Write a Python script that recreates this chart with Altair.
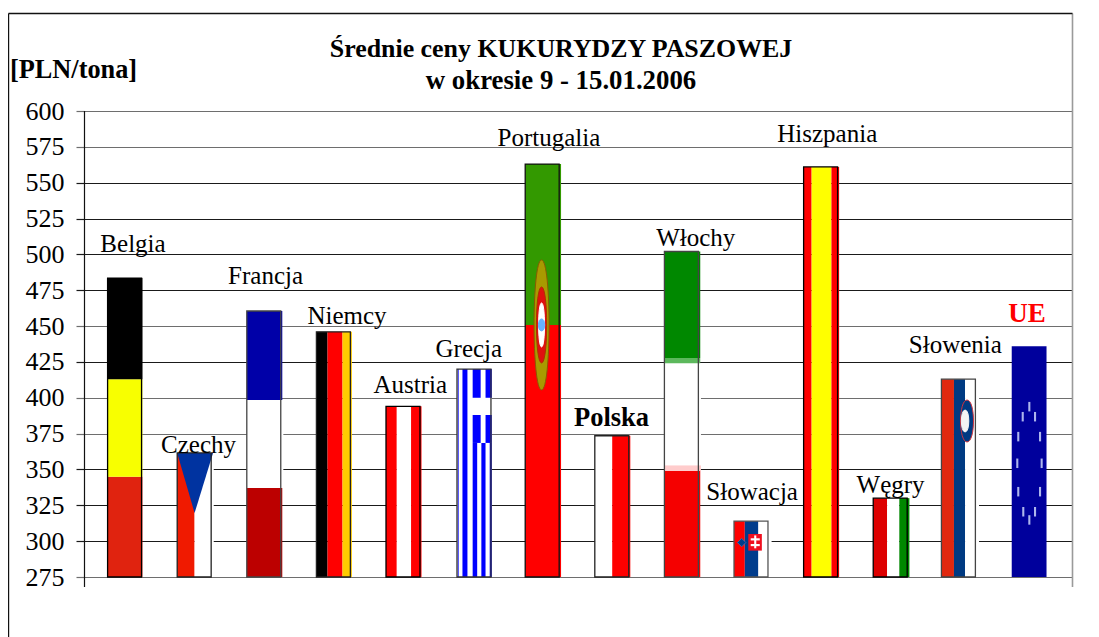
import altair as alt
import pandas as pd

# ---- values ----
countries = ["Belgia", "Czechy", "Francja", "Niemcy", "Austria", "Grecja", "Portugalia",
             "Polska", "Włochy", "Słowacja", "Hiszpania", "Węgry", "Słowenia", "UE"]
prices = [483.5, 361.5, 460.5, 446, 394, 420, 563, 373.5, 502, 314, 561, 330, 413, 436]
bar_pos = [1, 2, 3, 4, 5, 6.02, 7, 8, 9, 10, 11, 12, 12.98, 13.99]
label_x = [1.115, 2.057, 3.02, 4.19, 5.10, 5.94, 7.09, 7.99, 9.2, 10.01, 11.09, 12.0, 12.93, 13.96]
label_y = [501.7, 361.5, 479.4, 451.5, 403.3, 428.4, 575.6, 380.3, 505.9, 328.7, 578.4, 333.6, 431.2, 452.9]
outline = ["#000000", "#222222", "#444444", "#222222", "#000000", "#333333", "#111111",
           "#222222", "#444444", "#555555", "#000000", "#000000", "#444444", None]
y_ticks = [275, 300, 325, 350, 375, 400, 425, 450, 475, 500, 525, 550, 575, 600]
gray_ticks = [275, 375, 400, 450, 575, 600]

# flag pieces: (country, share of bar width from, to, price from, to, colour); None = whole height
pieces = [
    ("Belgia", 0, 1, 275, 345, "#E0230F"), ("Belgia", 0, 1, 345, 413, "#F8FF00"), ("Belgia", 0, 1, 413, None, "#000000"),
    ("Czechy", 0, .5, None, None, "#F01A00"), ("Czechy", .5, 1.05, None, None, "#FFFFFF"),
    ("Francja", 0, 1.02, 275, 337, "#BC0000"), ("Francja", 0, 1.05, 337, 398.4, "#FFFFFF"), ("Francja", 0, 1.02, 398.4, None, "#0000A8"),
    ("Niemcy", 0, .32, None, None, "#000000"), ("Niemcy", .32, .75, None, None, "#FF0000"), ("Niemcy", .75, 1.02, None, None, "#FFCC00"),
    ("Austria", 0, .31, None, None, "#FF0000"), ("Austria", .31, .72, None, None, "#FFFFFF"), ("Austria", .72, 1.02, None, None, "#FF0000"),
    ("Grecja", 0, 1, None, None, "#FFFFFF"), ("Grecja", .02, .05, None, None, "#2020FF"),
    ("Grecja", .157, .30, None, None, "#0000FF"),
    ("Grecja", .45, .58, 275, 368.5, "#0000FF"), ("Grecja", .70, .82, 275, 368.5, "#0000FF"), ("Grecja", .94, 1, 275, 368.5, "#0000FF"),
    ("Grecja", .45, .68, 368.5, 388, "#0000FF"), ("Grecja", .82, 1, 368.5, 388, "#0000FF"),
    ("Grecja", .45, .68, 400, None, "#0000FF"), ("Grecja", .82, 1, 400, None, "#0000FF"),
    ("Portugalia", 0, 1.03, 275, 450.8, "#FF0000"), ("Portugalia", 0, 1.03, 450.8, None, "#339900"),
    ("Polska", 0, .5, None, None, "#FFFFFF"), ("Polska", .5, 1.02, None, None, "#FF0000"),
    ("Włochy", 0, 1.03, 275, 349, "#F50000"), ("Włochy", 0, 1.05, 349, 353, "#FFCCCC"), ("Włochy", 0, 1.05, 353, 424, "#FFFFFF"),
    ("Włochy", 0, 1.03, 424, 427.7, "#5CB85C"), ("Włochy", 0, 1.03, 427.7, None, "#008800"),
    ("Słowacja", 0, .31, None, None, "#FF0000"), ("Słowacja", .31, .70, None, None, "#003C8C"), ("Słowacja", .70, 1.08, None, None, "#FFFFFF"),
    ("Słowacja", .41, .80, 293.4, 305, "#F01020"), ("Słowacja", .58, .64, 295, 304, "#FFFFFF"),
    ("Słowacja", .48, .74, 300.5, 302, "#FFFFFF"), ("Słowacja", .48, .74, 296.5, 298, "#FFFFFF"),
    ("Hiszpania", 0, .23, None, None, "#FF0000"), ("Hiszpania", .23, .80, None, None, "#FFFF00"), ("Hiszpania", .80, 1.02, None, None, "#FF0000"),
    ("Węgry", 0, .40, None, None, "#DD0000"), ("Węgry", .40, .75, None, None, "#FFFFFF"), ("Węgry", .75, 1.04, None, None, "#008800"),
    ("Słowenia", 0, .36, None, None, "#E0280F"), ("Słowenia", .36, .68, None, None, "#003A82"), ("Słowenia", .68, 1.08, None, None, "#FFFFFF"),
    ("UE", 0, 1, None, None, "#00009C"),
]
triangle_x = [1.75, 2.0, 2.265]
triangle_y = [361.5, 319.6, 361.5]

def oval(r):
    return f"M0,-1C{r},-1 {r},1 0,1C{-r},1 {-r},-1 0,-1Z"
dash = "M-.22,-1H.22V1H-.22Z"

# emblems: x, price, shape, size, fill, stroke
emblems = [
    (6.985, 450.8, oval(.154), 16900, "#A89A00", "#8A5A00"),
    (6.985, 450.8, oval(.18), 5776, "#E01010", "#B03000"),
    (6.985, 450.8, oval(.18), 1936, "#FFFFFF", "#FFFFFF"),
    (6.985, 450.8, oval(.7), 144, "#66B2FF", "#66B2FF"),
    (9.86, 299, "diamond", 70, "#003C8C", "#3A66A8"),
    (13.098, 383.8, oval(.41), 1764, "#003A82", "#D0343F"),
    (13.07, 383.8, oval(.45), 484, "#F4F4F4", "#F4F4F4"),
]
star_x = [13.993, 13.898, 14.075, 13.834, 14.147, 13.82, 14.17, 13.834, 14.147, 13.906, 14.075, 13.993]
star_y = [393.8, 386.8, 386.8, 372.9, 372.9, 354.3, 354.3, 334.5, 334.5, 320.5, 320.5, 314.8]

# ---- tables ----
half = 0.25
pos = dict(zip(countries, bar_pos))
top = dict(zip(countries, prices))
seg = pd.DataFrame([
    dict(x0=pos[c] - half + f0 * 2 * half, x1=pos[c] - half + f1 * 2 * half,
         y0=275 if v0 is None else v0, y1=top[c] if v1 is None else v1, col=col)
    for c, f0, f1, v0, v1, col in pieces
])
bars = pd.DataFrame(dict(c=countries, x=bar_pos, top=prices, stroke=outline, lx=label_x, ly=label_y))
bars["x0"] = bars.x - half
bars["x1"] = bars.x + half - 0.012
bars["base"] = 275
tri = pd.DataFrame(dict(x=triangle_x, y=triangle_y, y2=[361.5] * 3))
emb = pd.DataFrame(emblems, columns=["x", "y", "shape", "size", "fill", "stroke"])
stars = pd.DataFrame(dict(x=star_x, y=star_y))

xs = alt.Scale(domain=[0.411, 14.606], nice=False, zero=False)
ys = alt.Scale(domain=[275, 600], nice=False, zero=False)
X = lambda f: alt.X(f, type="quantitative", scale=xs, axis=None)
gray_test = "indexof(" + str(gray_ticks) + ", datum.value) >= 0"
Y = lambda f: alt.Y(f, type="quantitative", scale=ys, title=None, stack=None, axis=alt.Axis(
    values=y_ticks, grid=True, domain=False, tickSize=8, labelPadding=12,
    labelFont="Liberation Serif", labelFontSize=26, labelColor="#000000", labelFlush=False, labelOverlap=False,
    gridColor={"condition": {"test": gray_test, "value": "#6E6E6E"}, "value": "#1A1A1A"},
    tickColor={"condition": {"test": gray_test, "value": "#6E6E6E"}, "value": "#1A1A1A"},
    gridWidth=1.2, tickWidth=1.2))
FONT = "Liberation Serif"

seg_l = alt.Chart(seg).mark_rect().encode(x=X("x0"), x2="x1", y=Y("y0"), y2="y1",
                                         fill=alt.Fill("col:N", scale=None))
tri_l = alt.Chart(tri).mark_area(color="#0033A0").encode(x=X("x"), y=Y("y"), y2="y2")
out_l = alt.Chart(bars[bars.stroke.notna()]).mark_rect(fillOpacity=0, strokeWidth=1.3).encode(
    x=X("x0"), x2="x1", y=Y("base"), y2="top", stroke=alt.Stroke("stroke:N", scale=None))
emb_l = alt.Chart(emb).mark_point(filled=True, opacity=1, strokeWidth=1).encode(
    x=X("x"), y=Y("y"), shape=alt.Shape("shape:N", scale=None), size=alt.Size("size:Q", scale=None),
    fill=alt.Fill("fill:N", scale=None), stroke=alt.Stroke("stroke:N", scale=None))
star_l = alt.Chart(stars).mark_point(filled=True, opacity=1, shape=dash, size=90, color="#AEB6EC").encode(
    x=X("x"), y=Y("y"))

def labels(rows, **kw):
    return alt.Chart(rows).mark_text(font=FONT, baseline="alphabetic", align="center", **kw).encode(
        x=X("lx"), y=Y("ly"), text="c:N")

lab_l = labels(bars[~bars.c.isin(["Polska", "UE"])], fontSize=25, color="#000000")
pol_l = labels(bars[bars.c == "Polska"], fontSize=26.5, fontWeight="bold", color="#000000")
ue_l = labels(bars[bars.c == "UE"], fontSize=27, fontWeight="bold", color="#FF0000")

def pix_text(txt, x, y, **kw):
    return alt.Chart(pd.DataFrame(dict(t=[txt]))).mark_text(font=FONT, fontWeight="bold", baseline="alphabetic",
        color="#000000", **kw).encode(x=alt.value(x), y=alt.value(y), text="t:N")

t1 = pix_text("Średnie ceny KUKURYDZY PASZOWEJ", 477, -54, fontSize=25.9, align="center")
t2 = pix_text("w okresie 9 - 15.01.2006", 477, -22, fontSize=26.8, align="center")
t3 = pix_text("[PLN/tona]", -74, -33, fontSize=26.3, align="left")

def rule(x, x2=None, y=0, y2=None, color="#000000", w=1.2):
    enc = dict(x=alt.value(x), y=alt.value(y))
    if x2 is not None:
        enc["x2"] = alt.value(x2)
    if y2 is not None:
        enc["y2"] = alt.value(y2)
    return alt.Chart(pd.DataFrame(dict(a=[0]))).mark_rule(color=color, strokeWidth=w).encode(**enc)

frame = [
    rule(0.5, y=0, y2=476, color="#111111"),
    rule(988.5, y=-97.5, y2=476, color="#9A9A9A", w=1.6),
    rule(-75.5, x2=988.5, y=-97.5, color="#111111", w=1.4),
    rule(-75.5, y=-97.5, y2=526, color="#111111", w=1.4),
]

chart = alt.layer(seg_l, tri_l, out_l, emb_l, star_l, lab_l, pol_l, ue_l, t1, t2, t3, *frame).properties(
    width=988, height=466, autosize="none",
    padding={"left": 76, "top": 103, "right": 10, "bottom": 60},
    background="#FFFFFF",
).configure_view(stroke=None)

chart.save("out.html", embed_options={"renderer": "svg", "actions": False})
